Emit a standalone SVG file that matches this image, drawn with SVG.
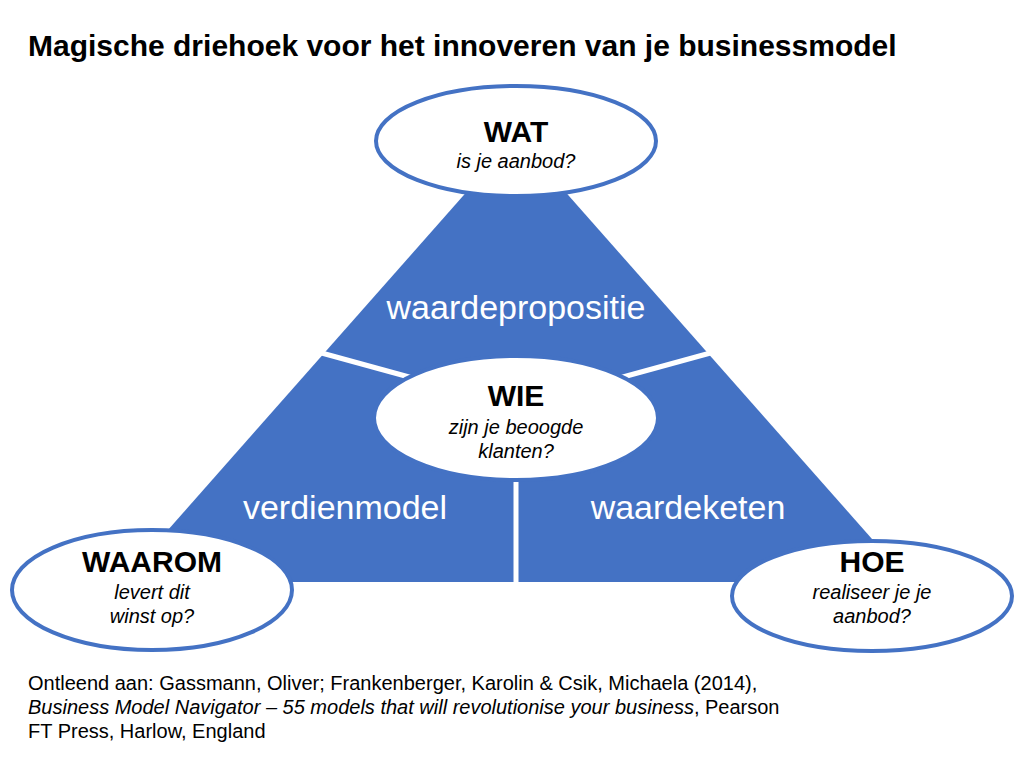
<svg xmlns="http://www.w3.org/2000/svg" width="1024" height="768" viewBox="0 0 1024 768">
<style>
text{font-family:"Liberation Sans",Arial,sans-serif}
.ell{fill:#fff;stroke:#4472C4;stroke-width:4}
.h{font-size:30px;font-weight:bold;text-anchor:middle;fill:#000}
.s{font-size:20px;font-style:italic;text-anchor:middle;fill:#000}
.w{font-size:34px;fill:#fff;text-anchor:middle}
.ref{font-size:20px;fill:#000}
</style>
<rect width="1024" height="768" fill="#fff"/>
<text x="28" y="56" style="font-size:30px;font-weight:bold">Magische driehoek voor het innoveren van je businessmodel</text>
<g id="triangle">
<polygon points="516,136 910,582 122,582" fill="#4472C4"/>
</g>
<g id="connectors" stroke="#fff" stroke-width="5" fill="none">
<line x1="318" y1="352" x2="420" y2="380"/>
<line x1="714" y1="352" x2="612" y2="380"/>
<line x1="516" y1="475" x2="516" y2="584"/>
</g>
<text class="w" x="516" y="319">waardepropositie</text>
<text class="w" x="345" y="519">verdienmodel</text>
<text class="w" x="688" y="519">waardeketen</text>
<g id="wat"><ellipse class="ell" cx="516" cy="141" rx="140" ry="55"/>
<text class="h" x="516" y="142">WAT</text><text class="s" x="516" y="168">is je aanbod?</text></g>
<g id="wie"><ellipse class="ell" cx="516" cy="418" rx="142" ry="62"/>
<text class="h" x="516" y="406">WIE</text><text class="s" x="516" y="434">zijn je beoogde</text><text class="s" x="516" y="458">klanten?</text></g>
<g id="waarom"><ellipse class="ell" cx="152" cy="590" rx="140" ry="60"/>
<text class="h" x="152" y="572">WAAROM</text><text class="s" x="152" y="599">levert dit</text><text class="s" x="152" y="623">winst op?</text></g>
<g id="hoe"><ellipse class="ell" cx="872" cy="596" rx="140" ry="55"/>
<text class="h" x="872" y="572">HOE</text><text class="s" x="872" y="599">realiseer je je</text><text class="s" x="872" y="623">aanbod?</text></g>
<text class="ref" x="28" y="690">Ontleend aan: Gassmann, Oliver; Frankenberger, Karolin &amp; Csik, Michaela (2014),</text>
<text class="ref" x="28" y="714"><tspan font-style="italic">Business Model Navigator – 55 models that will revolutionise your business</tspan>, Pearson</text>
<text class="ref" x="28" y="738">FT Press, Harlow, England</text>
</svg>
